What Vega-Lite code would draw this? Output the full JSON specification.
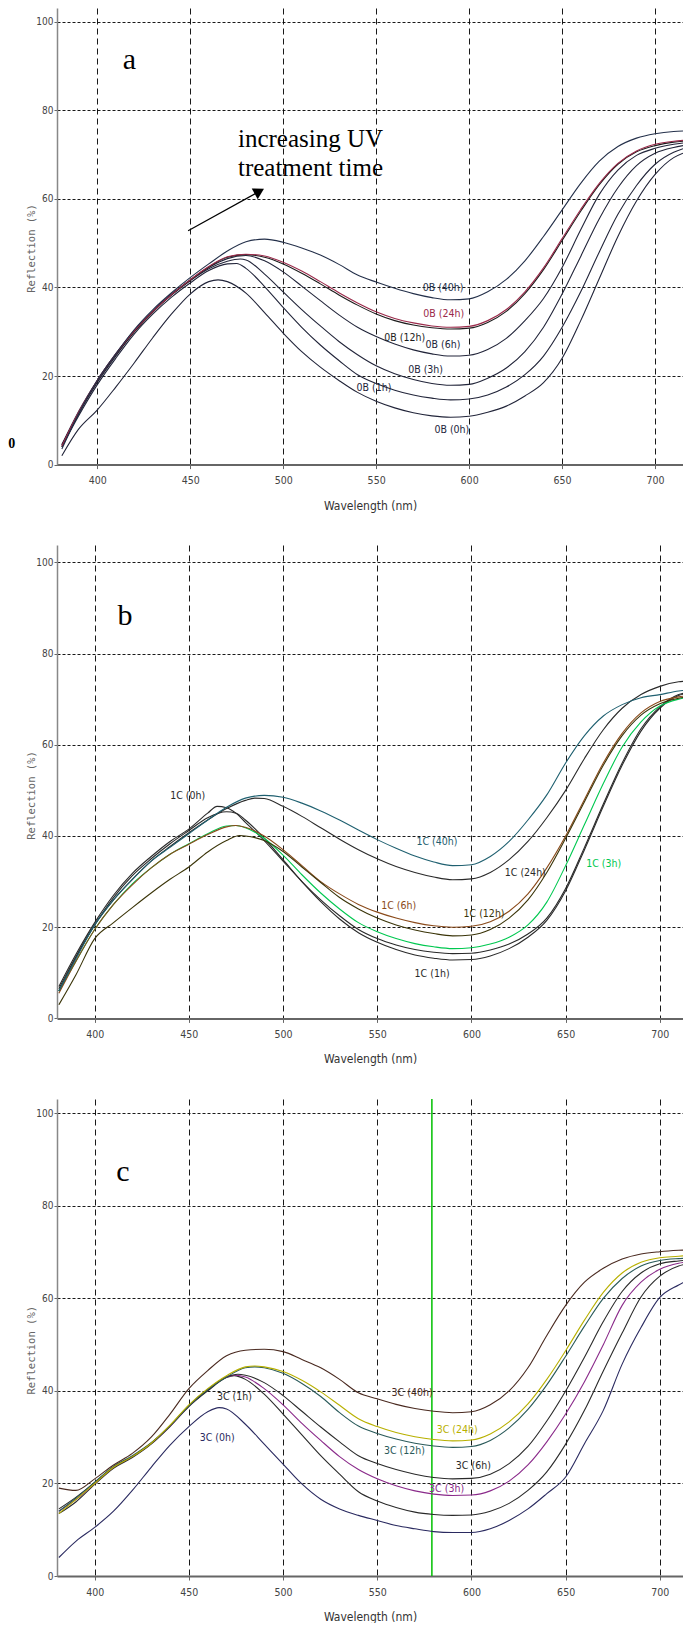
{
"$schema":"https://vega.github.io/schema/vega-lite/v6.json",
"padding":{"left":8,"top":8,"right":0,"bottom":0},
"background":"white",
"spacing":80,
"bounds":"flush",
"resolve":{"scale":{"color":"independent"}},
"config":{"view":{"stroke":null},
"axisX":{"grid":true,"gridDash":[6,4],"gridColor":"#000","gridOpacity":0.9,"domainColor":"#666","domainWidth":2,"tickSize":4,"tickColor":"#666","labelFont":"Liberation Sans Narrow, DejaVu Sans Condensed, sans-serif","labelFontSize":10.5,"labelColor":"#444","labelPadding":7,"titleFont":"Liberation Sans Narrow, DejaVu Sans Condensed, sans-serif","titleFontSize":12,"titleFontWeight":"normal","titleColor":"#333","titlePadding":14},
"axisY":{"grid":true,"gridDash":[3,2],"gridColor":"#000","gridOpacity":0.9,"domainColor":"#888","domainWidth":1.5,"tickSize":3,"tickColor":"#666","labelFont":"Liberation Sans Narrow, DejaVu Sans Condensed, sans-serif","labelFontSize":10,"labelColor":"#444","labelPadding":1,"titleFont":"DejaVu Sans Mono","titleFontSize":10.5,"titleFontWeight":"normal","titleColor":"#666","titleAlign":"center","titleBaseline":"middle","titleX":-26}},
"datasets":{
"a":[
{"s":"0h","w":381,"r":2},{"s":"0h","w":390,"r":8},{"s":"0h","w":400,"r":12.3},{"s":"0h","w":410,"r":17.5},{"s":"0h","w":420,"r":23},{"s":"0h","w":430,"r":28.7},{"s":"0h","w":440,"r":34},{"s":"0h","w":450,"r":38.5},{"s":"0h","w":460,"r":41.3},{"s":"0h","w":465,"r":41.7},{"s":"0h","w":470,"r":41.3},{"s":"0h","w":480,"r":38.7},{"s":"0h","w":490,"r":34.3},{"s":"0h","w":500,"r":29.7},{"s":"0h","w":510,"r":25.5},{"s":"0h","w":520,"r":22},{"s":"0h","w":530,"r":19},{"s":"0h","w":540,"r":16.3},{"s":"0h","w":550,"r":14.3},{"s":"0h","w":560,"r":12.8},{"s":"0h","w":570,"r":11.7},{"s":"0h","w":580,"r":11},{"s":"0h","w":590,"r":10.7},{"s":"0h","w":600,"r":10.9},{"s":"0h","w":610,"r":11.8},{"s":"0h","w":620,"r":13.2},{"s":"0h","w":630,"r":15.5},{"s":"0h","w":640,"r":18.5},{"s":"0h","w":650,"r":24},{"s":"0h","w":660,"r":32.5},{"s":"0h","w":670,"r":42},{"s":"0h","w":680,"r":51.5},{"s":"0h","w":690,"r":59.5},{"s":"0h","w":700,"r":65.5},{"s":"0h","w":710,"r":69.3},{"s":"0h","w":715,"r":70.3},
{"s":"1h","w":381,"r":4},{"s":"1h","w":390,"r":11},{"s":"1h","w":400,"r":18},{"s":"1h","w":410,"r":24},{"s":"1h","w":420,"r":29.5},{"s":"1h","w":430,"r":34},{"s":"1h","w":440,"r":37.8},{"s":"1h","w":450,"r":41},{"s":"1h","w":460,"r":43.8},{"s":"1h","w":470,"r":45.3},{"s":"1h","w":475,"r":45.4},{"s":"1h","w":480,"r":44.3},{"s":"1h","w":490,"r":40.2},{"s":"1h","w":500,"r":35.5},{"s":"1h","w":510,"r":31},{"s":"1h","w":520,"r":27},{"s":"1h","w":530,"r":23.5},{"s":"1h","w":540,"r":20.3},{"s":"1h","w":550,"r":18.3},{"s":"1h","w":560,"r":16.8},{"s":"1h","w":570,"r":15.7},{"s":"1h","w":580,"r":15},{"s":"1h","w":590,"r":14.6},{"s":"1h","w":600,"r":14.8},{"s":"1h","w":610,"r":15.7},{"s":"1h","w":620,"r":17.5},{"s":"1h","w":630,"r":20.3},{"s":"1h","w":640,"r":24.5},{"s":"1h","w":650,"r":31},{"s":"1h","w":660,"r":39},{"s":"1h","w":670,"r":48},{"s":"1h","w":680,"r":56.5},{"s":"1h","w":690,"r":63},{"s":"1h","w":700,"r":67.8},{"s":"1h","w":710,"r":70.5},{"s":"1h","w":715,"r":71.3},
{"s":"3h","w":381,"r":4.5},{"s":"3h","w":390,"r":11.5},{"s":"3h","w":400,"r":18.5},{"s":"3h","w":410,"r":24.5},{"s":"3h","w":420,"r":30},{"s":"3h","w":430,"r":34.5},{"s":"3h","w":440,"r":38.3},{"s":"3h","w":450,"r":41.5},{"s":"3h","w":460,"r":44.2},{"s":"3h","w":470,"r":45.9},{"s":"3h","w":477,"r":46.4},{"s":"3h","w":480,"r":46.2},{"s":"3h","w":490,"r":43},{"s":"3h","w":500,"r":39},{"s":"3h","w":510,"r":35},{"s":"3h","w":520,"r":31.3},{"s":"3h","w":530,"r":27.8},{"s":"3h","w":540,"r":24.8},{"s":"3h","w":550,"r":22.3},{"s":"3h","w":560,"r":20.5},{"s":"3h","w":570,"r":19.2},{"s":"3h","w":580,"r":18.3},{"s":"3h","w":590,"r":17.9},{"s":"3h","w":600,"r":18.1},{"s":"3h","w":610,"r":19.5},{"s":"3h","w":620,"r":21.8},{"s":"3h","w":630,"r":25.5},{"s":"3h","w":640,"r":31},{"s":"3h","w":650,"r":38.5},{"s":"3h","w":660,"r":47},{"s":"3h","w":670,"r":55.5},{"s":"3h","w":680,"r":62.5},{"s":"3h","w":690,"r":67.5},{"s":"3h","w":700,"r":70.3},{"s":"3h","w":710,"r":71.6},{"s":"3h","w":715,"r":72},
{"s":"6h","w":381,"r":4.5},{"s":"6h","w":390,"r":12},{"s":"6h","w":400,"r":19},{"s":"6h","w":410,"r":25},{"s":"6h","w":420,"r":30.3},{"s":"6h","w":430,"r":34.7},{"s":"6h","w":440,"r":38.5},{"s":"6h","w":450,"r":41.7},{"s":"6h","w":460,"r":44.5},{"s":"6h","w":470,"r":46.5},{"s":"6h","w":480,"r":47.2},{"s":"6h","w":490,"r":46},{"s":"6h","w":500,"r":43.5},{"s":"6h","w":510,"r":40.3},{"s":"6h","w":520,"r":37},{"s":"6h","w":530,"r":33.8},{"s":"6h","w":540,"r":31},{"s":"6h","w":550,"r":28.9},{"s":"6h","w":560,"r":27.2},{"s":"6h","w":570,"r":25.9},{"s":"6h","w":580,"r":25},{"s":"6h","w":590,"r":24.5},{"s":"6h","w":600,"r":24.7},{"s":"6h","w":610,"r":26},{"s":"6h","w":620,"r":28.5},{"s":"6h","w":630,"r":32.5},{"s":"6h","w":640,"r":37.5},{"s":"6h","w":650,"r":44.5},{"s":"6h","w":660,"r":53},{"s":"6h","w":670,"r":61},{"s":"6h","w":680,"r":66.5},{"s":"6h","w":690,"r":69.8},{"s":"6h","w":700,"r":71.4},{"s":"6h","w":710,"r":72.3},{"s":"6h","w":715,"r":72.6},
{"s":"12h","w":381,"r":4},{"s":"12h","w":390,"r":11.5},{"s":"12h","w":400,"r":18.8},{"s":"12h","w":410,"r":24.8},{"s":"12h","w":420,"r":30},{"s":"12h","w":430,"r":34.5},{"s":"12h","w":440,"r":38.3},{"s":"12h","w":450,"r":41.6},{"s":"12h","w":460,"r":44.6},{"s":"12h","w":470,"r":46.8},{"s":"12h","w":480,"r":47.4},{"s":"12h","w":490,"r":46.8},{"s":"12h","w":500,"r":45.3},{"s":"12h","w":510,"r":43.2},{"s":"12h","w":520,"r":40.8},{"s":"12h","w":530,"r":38.3},{"s":"12h","w":540,"r":36},{"s":"12h","w":550,"r":34},{"s":"12h","w":560,"r":32.5},{"s":"12h","w":570,"r":31.5},{"s":"12h","w":580,"r":30.9},{"s":"12h","w":590,"r":30.6},{"s":"12h","w":600,"r":30.8},{"s":"12h","w":610,"r":32.1},{"s":"12h","w":620,"r":34.6},{"s":"12h","w":630,"r":38.6},{"s":"12h","w":640,"r":44},{"s":"12h","w":650,"r":50.6},{"s":"12h","w":660,"r":57.2},{"s":"12h","w":670,"r":63.2},{"s":"12h","w":680,"r":67.8},{"s":"12h","w":690,"r":70.6},{"s":"12h","w":700,"r":72},{"s":"12h","w":710,"r":72.8},{"s":"12h","w":715,"r":73},
{"s":"24h","w":381,"r":4.2},{"s":"24h","w":390,"r":11.8},{"s":"24h","w":400,"r":19},{"s":"24h","w":410,"r":25},{"s":"24h","w":420,"r":30.2},{"s":"24h","w":430,"r":34.6},{"s":"24h","w":440,"r":38.4},{"s":"24h","w":450,"r":41.7},{"s":"24h","w":460,"r":44.7},{"s":"24h","w":470,"r":46.9},{"s":"24h","w":480,"r":47.5},{"s":"24h","w":490,"r":47.1},{"s":"24h","w":500,"r":45.7},{"s":"24h","w":510,"r":43.7},{"s":"24h","w":520,"r":41.3},{"s":"24h","w":530,"r":38.8},{"s":"24h","w":540,"r":36.5},{"s":"24h","w":550,"r":34.5},{"s":"24h","w":560,"r":33},{"s":"24h","w":570,"r":32},{"s":"24h","w":580,"r":31.3},{"s":"24h","w":590,"r":31},{"s":"24h","w":600,"r":31.2},{"s":"24h","w":610,"r":32.5},{"s":"24h","w":620,"r":35},{"s":"24h","w":630,"r":39},{"s":"24h","w":640,"r":44.4},{"s":"24h","w":650,"r":51},{"s":"24h","w":660,"r":57.6},{"s":"24h","w":670,"r":63.5},{"s":"24h","w":680,"r":68},{"s":"24h","w":690,"r":70.8},{"s":"24h","w":700,"r":72.3},{"s":"24h","w":710,"r":73},{"s":"24h","w":715,"r":73.2},
{"s":"40h","w":381,"r":3.5},{"s":"40h","w":390,"r":11.5},{"s":"40h","w":400,"r":19},{"s":"40h","w":410,"r":25},{"s":"40h","w":420,"r":30.5},{"s":"40h","w":430,"r":35},{"s":"40h","w":440,"r":38.8},{"s":"40h","w":450,"r":42.2},{"s":"40h","w":460,"r":45.3},{"s":"40h","w":470,"r":48.2},{"s":"40h","w":480,"r":50.3},{"s":"40h","w":490,"r":50.9},{"s":"40h","w":500,"r":50.2},{"s":"40h","w":510,"r":48.9},{"s":"40h","w":520,"r":47.3},{"s":"40h","w":530,"r":45.2},{"s":"40h","w":540,"r":42.8},{"s":"40h","w":550,"r":41.2},{"s":"40h","w":560,"r":39.8},{"s":"40h","w":570,"r":38.6},{"s":"40h","w":580,"r":37.7},{"s":"40h","w":590,"r":37.2},{"s":"40h","w":600,"r":37.4},{"s":"40h","w":610,"r":39},{"s":"40h","w":620,"r":41.8},{"s":"40h","w":630,"r":46},{"s":"40h","w":640,"r":51.5},{"s":"40h","w":650,"r":57.5},{"s":"40h","w":660,"r":63.5},{"s":"40h","w":670,"r":68.5},{"s":"40h","w":680,"r":71.8},{"s":"40h","w":690,"r":73.7},{"s":"40h","w":700,"r":74.7},{"s":"40h","w":710,"r":75.2},{"s":"40h","w":715,"r":75.3}
],
"b":[
{"s":"0h","w":381,"r":7},{"s":"0h","w":390,"r":14},{"s":"0h","w":400,"r":21},{"s":"0h","w":410,"r":27},{"s":"0h","w":420,"r":31.8},{"s":"0h","w":430,"r":35.5},{"s":"0h","w":440,"r":38.8},{"s":"0h","w":450,"r":41.5},{"s":"0h","w":460,"r":45},{"s":"0h","w":465,"r":46.5},{"s":"0h","w":470,"r":46.2},{"s":"0h","w":475,"r":45},{"s":"0h","w":480,"r":43},{"s":"0h","w":490,"r":39},{"s":"0h","w":500,"r":34.5},{"s":"0h","w":510,"r":30},{"s":"0h","w":520,"r":26},{"s":"0h","w":530,"r":22.5},{"s":"0h","w":540,"r":19.5},{"s":"0h","w":550,"r":17.5},{"s":"0h","w":560,"r":16.1},{"s":"0h","w":570,"r":15.1},{"s":"0h","w":580,"r":14.5},{"s":"0h","w":590,"r":14.2},{"s":"0h","w":600,"r":14.3},{"s":"0h","w":610,"r":15},{"s":"0h","w":620,"r":16.3},{"s":"0h","w":630,"r":18.5},{"s":"0h","w":640,"r":22},{"s":"0h","w":650,"r":28.5},{"s":"0h","w":660,"r":37.5},{"s":"0h","w":670,"r":47},{"s":"0h","w":680,"r":56},{"s":"0h","w":690,"r":63.5},{"s":"0h","w":700,"r":68.3},{"s":"0h","w":710,"r":71},{"s":"0h","w":715,"r":71.5},
{"s":"1h","w":381,"r":6.5},{"s":"1h","w":390,"r":13.5},{"s":"1h","w":400,"r":20.5},{"s":"1h","w":410,"r":26.5},{"s":"1h","w":420,"r":31.3},{"s":"1h","w":430,"r":35},{"s":"1h","w":440,"r":38.3},{"s":"1h","w":450,"r":41.2},{"s":"1h","w":460,"r":44},{"s":"1h","w":470,"r":45.3},{"s":"1h","w":475,"r":45},{"s":"1h","w":480,"r":43.5},{"s":"1h","w":490,"r":39.5},{"s":"1h","w":500,"r":34.8},{"s":"1h","w":510,"r":30},{"s":"1h","w":520,"r":25.6},{"s":"1h","w":530,"r":21.8},{"s":"1h","w":540,"r":18.8},{"s":"1h","w":550,"r":16.7},{"s":"1h","w":560,"r":15.1},{"s":"1h","w":570,"r":13.9},{"s":"1h","w":580,"r":13.2},{"s":"1h","w":590,"r":12.8},{"s":"1h","w":600,"r":12.9},{"s":"1h","w":610,"r":13.7},{"s":"1h","w":620,"r":15.3},{"s":"1h","w":630,"r":17.8},{"s":"1h","w":640,"r":21.5},{"s":"1h","w":650,"r":28},{"s":"1h","w":660,"r":37},{"s":"1h","w":670,"r":46.5},{"s":"1h","w":680,"r":55.5},{"s":"1h","w":690,"r":63},{"s":"1h","w":700,"r":68},{"s":"1h","w":710,"r":70.8},{"s":"1h","w":715,"r":71.3},
{"s":"3h","w":381,"r":6},{"s":"3h","w":390,"r":12.5},{"s":"3h","w":400,"r":19.5},{"s":"3h","w":410,"r":25},{"s":"3h","w":420,"r":29.5},{"s":"3h","w":430,"r":33},{"s":"3h","w":440,"r":36},{"s":"3h","w":450,"r":38.3},{"s":"3h","w":460,"r":40.5},{"s":"3h","w":470,"r":42.2},{"s":"3h","w":475,"r":42.3},{"s":"3h","w":480,"r":41.8},{"s":"3h","w":490,"r":39.5},{"s":"3h","w":500,"r":35.8},{"s":"3h","w":510,"r":31.5},{"s":"3h","w":520,"r":27.5},{"s":"3h","w":530,"r":24},{"s":"3h","w":540,"r":21},{"s":"3h","w":550,"r":19},{"s":"3h","w":560,"r":17.5},{"s":"3h","w":570,"r":16.4},{"s":"3h","w":580,"r":15.7},{"s":"3h","w":590,"r":15.3},{"s":"3h","w":600,"r":15.5},{"s":"3h","w":610,"r":16.3},{"s":"3h","w":620,"r":17.8},{"s":"3h","w":630,"r":20.5},{"s":"3h","w":640,"r":25.5},{"s":"3h","w":650,"r":33.5},{"s":"3h","w":660,"r":42.5},{"s":"3h","w":670,"r":51.5},{"s":"3h","w":680,"r":59.5},{"s":"3h","w":690,"r":65},{"s":"3h","w":700,"r":68.5},{"s":"3h","w":710,"r":70},{"s":"3h","w":715,"r":70.4},
{"s":"6h","w":381,"r":5.5},{"s":"6h","w":390,"r":12.5},{"s":"6h","w":400,"r":19.5},{"s":"6h","w":410,"r":25},{"s":"6h","w":420,"r":29.3},{"s":"6h","w":430,"r":33},{"s":"6h","w":440,"r":36},{"s":"6h","w":450,"r":38.2},{"s":"6h","w":460,"r":40.3},{"s":"6h","w":470,"r":42},{"s":"6h","w":475,"r":42.3},{"s":"6h","w":480,"r":41.9},{"s":"6h","w":490,"r":40},{"s":"6h","w":500,"r":37},{"s":"6h","w":510,"r":33.5},{"s":"6h","w":520,"r":30},{"s":"6h","w":530,"r":27.3},{"s":"6h","w":540,"r":25},{"s":"6h","w":550,"r":23.3},{"s":"6h","w":560,"r":22},{"s":"6h","w":570,"r":21},{"s":"6h","w":580,"r":20.3},{"s":"6h","w":590,"r":20},{"s":"6h","w":600,"r":20.2},{"s":"6h","w":610,"r":21.2},{"s":"6h","w":620,"r":23.5},{"s":"6h","w":630,"r":27.3},{"s":"6h","w":640,"r":33},{"s":"6h","w":650,"r":40},{"s":"6h","w":660,"r":48},{"s":"6h","w":670,"r":56},{"s":"6h","w":680,"r":62.5},{"s":"6h","w":690,"r":67},{"s":"6h","w":700,"r":69.5},{"s":"6h","w":710,"r":70.5},{"s":"6h","w":715,"r":70.8},
{"s":"12h","w":381,"r":3},{"s":"12h","w":390,"r":9.5},{"s":"12h","w":400,"r":17.5},{"s":"12h","w":410,"r":21},{"s":"12h","w":420,"r":24.3},{"s":"12h","w":430,"r":27.5},{"s":"12h","w":440,"r":30.5},{"s":"12h","w":450,"r":33.2},{"s":"12h","w":460,"r":36.5},{"s":"12h","w":470,"r":39},{"s":"12h","w":477,"r":40.1},{"s":"12h","w":480,"r":40},{"s":"12h","w":490,"r":39},{"s":"12h","w":500,"r":36.6},{"s":"12h","w":510,"r":33.2},{"s":"12h","w":520,"r":29.8},{"s":"12h","w":530,"r":26.5},{"s":"12h","w":540,"r":24},{"s":"12h","w":550,"r":22},{"s":"12h","w":560,"r":20.5},{"s":"12h","w":570,"r":19.4},{"s":"12h","w":580,"r":18.6},{"s":"12h","w":590,"r":18.1},{"s":"12h","w":600,"r":18.3},{"s":"12h","w":610,"r":19.5},{"s":"12h","w":620,"r":22},{"s":"12h","w":630,"r":26},{"s":"12h","w":640,"r":32},{"s":"12h","w":650,"r":39.5},{"s":"12h","w":660,"r":47.5},{"s":"12h","w":670,"r":55.5},{"s":"12h","w":680,"r":62},{"s":"12h","w":690,"r":66.5},{"s":"12h","w":700,"r":69},{"s":"12h","w":710,"r":70.2},{"s":"12h","w":715,"r":70.5},
{"s":"24h","w":381,"r":6},{"s":"24h","w":390,"r":13.3},{"s":"24h","w":400,"r":20.5},{"s":"24h","w":410,"r":26},{"s":"24h","w":420,"r":30.5},{"s":"24h","w":430,"r":34.5},{"s":"24h","w":440,"r":37.7},{"s":"24h","w":450,"r":40.7},{"s":"24h","w":460,"r":43.5},{"s":"24h","w":470,"r":46},{"s":"24h","w":480,"r":47.8},{"s":"24h","w":485,"r":48.3},{"s":"24h","w":490,"r":48.2},{"s":"24h","w":500,"r":46.5},{"s":"24h","w":510,"r":44.3},{"s":"24h","w":520,"r":41.8},{"s":"24h","w":530,"r":39.3},{"s":"24h","w":540,"r":37},{"s":"24h","w":550,"r":35},{"s":"24h","w":560,"r":33.3},{"s":"24h","w":570,"r":32},{"s":"24h","w":580,"r":31},{"s":"24h","w":590,"r":30.4},{"s":"24h","w":600,"r":30.6},{"s":"24h","w":610,"r":32},{"s":"24h","w":620,"r":34.8},{"s":"24h","w":630,"r":38.8},{"s":"24h","w":640,"r":44},{"s":"24h","w":650,"r":50},{"s":"24h","w":660,"r":57},{"s":"24h","w":670,"r":63.3},{"s":"24h","w":680,"r":68},{"s":"24h","w":690,"r":71},{"s":"24h","w":700,"r":72.8},{"s":"24h","w":710,"r":73.8},{"s":"24h","w":715,"r":74},
{"s":"40h","w":381,"r":6},{"s":"40h","w":390,"r":13},{"s":"40h","w":400,"r":20.5},{"s":"40h","w":410,"r":26},{"s":"40h","w":420,"r":30.5},{"s":"40h","w":430,"r":34.5},{"s":"40h","w":440,"r":37.5},{"s":"40h","w":450,"r":40.5},{"s":"40h","w":460,"r":43.5},{"s":"40h","w":470,"r":46.3},{"s":"40h","w":480,"r":48.3},{"s":"40h","w":490,"r":48.9},{"s":"40h","w":500,"r":48.5},{"s":"40h","w":510,"r":47.2},{"s":"40h","w":520,"r":45.5},{"s":"40h","w":530,"r":43.5},{"s":"40h","w":540,"r":41.3},{"s":"40h","w":550,"r":39.2},{"s":"40h","w":560,"r":37.3},{"s":"40h","w":570,"r":35.6},{"s":"40h","w":580,"r":34.3},{"s":"40h","w":590,"r":33.5},{"s":"40h","w":600,"r":33.7},{"s":"40h","w":610,"r":35.5},{"s":"40h","w":620,"r":38.8},{"s":"40h","w":630,"r":43.5},{"s":"40h","w":640,"r":49},{"s":"40h","w":650,"r":56},{"s":"40h","w":660,"r":62},{"s":"40h","w":670,"r":66.3},{"s":"40h","w":680,"r":68.8},{"s":"40h","w":690,"r":70.3},{"s":"40h","w":700,"r":71},{"s":"40h","w":710,"r":71.8},{"s":"40h","w":715,"r":72}
],
"c":[
{"s":"0h","w":381,"r":4},{"s":"0h","w":390,"r":7.5},{"s":"0h","w":400,"r":10.5},{"s":"0h","w":410,"r":14},{"s":"0h","w":420,"r":18.5},{"s":"0h","w":430,"r":23.5},{"s":"0h","w":440,"r":28.3},{"s":"0h","w":450,"r":32.3},{"s":"0h","w":460,"r":35.5},{"s":"0h","w":466,"r":36.4},{"s":"0h","w":470,"r":36.1},{"s":"0h","w":480,"r":32.8},{"s":"0h","w":490,"r":28.5},{"s":"0h","w":500,"r":24.2},{"s":"0h","w":510,"r":19.9},{"s":"0h","w":520,"r":16.6},{"s":"0h","w":530,"r":14.5},{"s":"0h","w":540,"r":13.1},{"s":"0h","w":550,"r":12},{"s":"0h","w":560,"r":10.9},{"s":"0h","w":570,"r":10.2},{"s":"0h","w":580,"r":9.6},{"s":"0h","w":590,"r":9.4},{"s":"0h","w":600,"r":9.4},{"s":"0h","w":610,"r":10.2},{"s":"0h","w":620,"r":12},{"s":"0h","w":630,"r":14.5},{"s":"0h","w":640,"r":17.8},{"s":"0h","w":650,"r":21.4},{"s":"0h","w":660,"r":28.6},{"s":"0h","w":670,"r":35.8},{"s":"0h","w":680,"r":45.8},{"s":"0h","w":690,"r":53.7},{"s":"0h","w":700,"r":60.2},{"s":"0h","w":710,"r":62.9},{"s":"0h","w":715,"r":64},
{"s":"1h","w":381,"r":13.5},{"s":"1h","w":390,"r":16},{"s":"1h","w":400,"r":19.8},{"s":"1h","w":410,"r":23.3},{"s":"1h","w":420,"r":25.6},{"s":"1h","w":430,"r":28.5},{"s":"1h","w":440,"r":32.3},{"s":"1h","w":450,"r":36.6},{"s":"1h","w":460,"r":40},{"s":"1h","w":470,"r":42.9},{"s":"1h","w":474,"r":43.3},{"s":"1h","w":480,"r":42.5},{"s":"1h","w":490,"r":39.3},{"s":"1h","w":500,"r":35},{"s":"1h","w":510,"r":30.5},{"s":"1h","w":520,"r":26},{"s":"1h","w":530,"r":22},{"s":"1h","w":540,"r":18.2},{"s":"1h","w":550,"r":16.2},{"s":"1h","w":560,"r":14.8},{"s":"1h","w":570,"r":13.8},{"s":"1h","w":580,"r":13.3},{"s":"1h","w":590,"r":13.1},{"s":"1h","w":600,"r":13.2},{"s":"1h","w":610,"r":14},{"s":"1h","w":620,"r":15.7},{"s":"1h","w":630,"r":18.5},{"s":"1h","w":640,"r":22.5},{"s":"1h","w":650,"r":28.5},{"s":"1h","w":660,"r":35.8},{"s":"1h","w":670,"r":44.3},{"s":"1h","w":680,"r":52.5},{"s":"1h","w":690,"r":60.3},{"s":"1h","w":700,"r":64.8},{"s":"1h","w":710,"r":67},{"s":"1h","w":715,"r":67.5},
{"s":"3h","w":381,"r":14},{"s":"3h","w":390,"r":16.5},{"s":"3h","w":400,"r":20},{"s":"3h","w":410,"r":23.5},{"s":"3h","w":420,"r":25.8},{"s":"3h","w":430,"r":28.7},{"s":"3h","w":440,"r":32.4},{"s":"3h","w":450,"r":36.8},{"s":"3h","w":460,"r":40.3},{"s":"3h","w":470,"r":43},{"s":"3h","w":475,"r":43.4},{"s":"3h","w":480,"r":43},{"s":"3h","w":490,"r":40.5},{"s":"3h","w":500,"r":37},{"s":"3h","w":510,"r":33},{"s":"3h","w":520,"r":29.3},{"s":"3h","w":530,"r":25.8},{"s":"3h","w":540,"r":23},{"s":"3h","w":550,"r":21},{"s":"3h","w":560,"r":19.5},{"s":"3h","w":570,"r":18.4},{"s":"3h","w":580,"r":17.7},{"s":"3h","w":590,"r":17.4},{"s":"3h","w":600,"r":17.5},{"s":"3h","w":610,"r":18.4},{"s":"3h","w":620,"r":20.5},{"s":"3h","w":630,"r":24},{"s":"3h","w":640,"r":29},{"s":"3h","w":650,"r":35},{"s":"3h","w":660,"r":42},{"s":"3h","w":670,"r":50},{"s":"3h","w":680,"r":58.5},{"s":"3h","w":690,"r":63.5},{"s":"3h","w":700,"r":66.3},{"s":"3h","w":710,"r":67.6},{"s":"3h","w":715,"r":67.9},
{"s":"6h","w":381,"r":14.5},{"s":"6h","w":390,"r":17},{"s":"6h","w":400,"r":20.2},{"s":"6h","w":410,"r":23.5},{"s":"6h","w":420,"r":25.8},{"s":"6h","w":430,"r":28.7},{"s":"6h","w":440,"r":32.5},{"s":"6h","w":450,"r":36.8},{"s":"6h","w":460,"r":40.2},{"s":"6h","w":470,"r":43},{"s":"6h","w":476,"r":43.6},{"s":"6h","w":480,"r":43.4},{"s":"6h","w":490,"r":41.8},{"s":"6h","w":500,"r":39},{"s":"6h","w":510,"r":35.6},{"s":"6h","w":520,"r":32.2},{"s":"6h","w":530,"r":29},{"s":"6h","w":540,"r":26},{"s":"6h","w":550,"r":24.3},{"s":"6h","w":560,"r":23},{"s":"6h","w":570,"r":22},{"s":"6h","w":580,"r":21.3},{"s":"6h","w":590,"r":21},{"s":"6h","w":600,"r":21.1},{"s":"6h","w":610,"r":22},{"s":"6h","w":620,"r":24.3},{"s":"6h","w":630,"r":28},{"s":"6h","w":640,"r":33.5},{"s":"6h","w":650,"r":40},{"s":"6h","w":660,"r":47.3},{"s":"6h","w":670,"r":55},{"s":"6h","w":680,"r":61.5},{"s":"6h","w":690,"r":65.5},{"s":"6h","w":700,"r":67.5},{"s":"6h","w":710,"r":68.1},{"s":"6h","w":715,"r":68.3},
{"s":"12h","w":381,"r":14},{"s":"12h","w":390,"r":16.8},{"s":"12h","w":400,"r":20.3},{"s":"12h","w":410,"r":23.7},{"s":"12h","w":420,"r":26},{"s":"12h","w":430,"r":28.8},{"s":"12h","w":440,"r":32.5},{"s":"12h","w":450,"r":36.8},{"s":"12h","w":460,"r":40.3},{"s":"12h","w":470,"r":43},{"s":"12h","w":480,"r":45},{"s":"12h","w":485,"r":45.2},{"s":"12h","w":490,"r":45},{"s":"12h","w":500,"r":43.8},{"s":"12h","w":510,"r":41.6},{"s":"12h","w":520,"r":38.8},{"s":"12h","w":530,"r":35.3},{"s":"12h","w":540,"r":32.4},{"s":"12h","w":550,"r":30.8},{"s":"12h","w":560,"r":29.6},{"s":"12h","w":570,"r":28.7},{"s":"12h","w":580,"r":28.1},{"s":"12h","w":590,"r":27.8},{"s":"12h","w":600,"r":28},{"s":"12h","w":610,"r":29.3},{"s":"12h","w":620,"r":32},{"s":"12h","w":630,"r":36},{"s":"12h","w":640,"r":41.3},{"s":"12h","w":650,"r":47.5},{"s":"12h","w":660,"r":54},{"s":"12h","w":670,"r":60},{"s":"12h","w":680,"r":64.3},{"s":"12h","w":690,"r":67},{"s":"12h","w":700,"r":68.2},{"s":"12h","w":710,"r":68.6},{"s":"12h","w":715,"r":68.7},
{"s":"24h","w":381,"r":13.5},{"s":"24h","w":390,"r":16.5},{"s":"24h","w":400,"r":20},{"s":"24h","w":410,"r":23.5},{"s":"24h","w":420,"r":25.8},{"s":"24h","w":430,"r":28.7},{"s":"24h","w":440,"r":32.6},{"s":"24h","w":450,"r":37},{"s":"24h","w":460,"r":40.5},{"s":"24h","w":470,"r":43.3},{"s":"24h","w":480,"r":45.2},{"s":"24h","w":485,"r":45.4},{"s":"24h","w":490,"r":45.2},{"s":"24h","w":500,"r":44.2},{"s":"24h","w":510,"r":42.3},{"s":"24h","w":520,"r":39.8},{"s":"24h","w":530,"r":36.9},{"s":"24h","w":540,"r":34},{"s":"24h","w":550,"r":32.3},{"s":"24h","w":560,"r":31},{"s":"24h","w":570,"r":30.1},{"s":"24h","w":580,"r":29.5},{"s":"24h","w":590,"r":29.2},{"s":"24h","w":600,"r":29.4},{"s":"24h","w":610,"r":30.7},{"s":"24h","w":620,"r":33.3},{"s":"24h","w":630,"r":37.2},{"s":"24h","w":640,"r":42.5},{"s":"24h","w":650,"r":48.7},{"s":"24h","w":660,"r":55.3},{"s":"24h","w":670,"r":61.3},{"s":"24h","w":680,"r":65.5},{"s":"24h","w":690,"r":67.8},{"s":"24h","w":700,"r":68.8},{"s":"24h","w":710,"r":69.1},{"s":"24h","w":715,"r":69.3},
{"s":"40h","w":381,"r":19},{"s":"40h","w":390,"r":18.5},{"s":"40h","w":400,"r":21},{"s":"40h","w":410,"r":24},{"s":"40h","w":420,"r":26.5},{"s":"40h","w":430,"r":30},{"s":"40h","w":440,"r":35},{"s":"40h","w":450,"r":40.5},{"s":"40h","w":460,"r":44.4},{"s":"40h","w":470,"r":47.6},{"s":"40h","w":480,"r":48.8},{"s":"40h","w":490,"r":49},{"s":"40h","w":500,"r":48.5},{"s":"40h","w":510,"r":46.8},{"s":"40h","w":520,"r":45},{"s":"40h","w":530,"r":42.5},{"s":"40h","w":540,"r":39.6},{"s":"40h","w":550,"r":38.3},{"s":"40h","w":560,"r":37.1},{"s":"40h","w":570,"r":36.2},{"s":"40h","w":580,"r":35.6},{"s":"40h","w":590,"r":35.3},{"s":"40h","w":600,"r":35.5},{"s":"40h","w":610,"r":37},{"s":"40h","w":620,"r":40},{"s":"40h","w":630,"r":45},{"s":"40h","w":640,"r":52},{"s":"40h","w":650,"r":58.5},{"s":"40h","w":660,"r":63.5},{"s":"40h","w":670,"r":66.5},{"s":"40h","w":680,"r":68.5},{"s":"40h","w":690,"r":69.6},{"s":"40h","w":700,"r":70.1},{"s":"40h","w":710,"r":70.4},{"s":"40h","w":715,"r":70.5}
],
"aL":[{"s":"40h","t":"0B (40h)","w":586,"r":39.8},{"s":"24h","t":"0B (24h)","w":586.3,"r":34},{"s":"12h","t":"0B (12h)","w":565.4,"r":28.6},{"s":"6h","t":"0B (6h)","w":585.9,"r":27},{"s":"3h","t":"0B (3h)","w":576.6,"r":21.4},{"s":"1h","t":"0B (1h)","w":548.8,"r":17.2},{"s":"0h","t":"0B (0h)","w":590.7,"r":7.8}],
"bL":[{"s":"40h","t":"1C (40h)","w":581.7,"r":38.7},{"s":"24h","t":"1C (24h)","w":628.6,"r":31.9},{"s":"6h","t":"1C (6h)","w":561.4,"r":24.6},{"s":"12h","t":"1C (12h)","w":606.7,"r":22.8},{"s":"3h","t":"1C (3h)","w":670.2,"r":33.9},{"s":"1h","t":"1C (1h)","w":579.1,"r":9.8},{"s":"0h","t":"1C (0h)","w":449.4,"r":48.7}],
"cL":[{"s":"40h","t":"3C (40h)","w":568.5,"r":39.6},{"s":"24h","t":"3C (24h)","w":592.4,"r":31.6},{"s":"12h","t":"3C (12h)","w":564.4,"r":27},{"s":"6h","t":"3C (6h)","w":601,"r":23.8},{"s":"3h","t":"3C (3h)","w":586.8,"r":18.7},{"s":"1h","t":"3C (1h)","w":474.2,"r":38.6},{"s":"0h","t":"3C (0h)","w":465,"r":29.9}],
"aLetter":[{"t":"a","w":417.4,"r":91.3}],
"bLetter":[{"t":"b","w":416.1,"r":88.3}],
"cLetter":[{"t":"c","w":415,"r":87.4}],
"aNote":[{"t":"increasing UV","w":475.7,"r":73.4},{"t":"treatment time","w":475.7,"r":66.9}],
"aZero":[{"t":"0","w":354.1,"r":4.65}],
"aArrow":[{"w":448.9,"r":52.8,"w2":486.9,"r2":61.6}],
"aHead":[{"w":487.2,"r":61.7}],
"cMark":[{"w":579}]
},
"vconcat":[
{"width":626,"height":456.6,
"layer":[
{"data":{"name":"a"},"mark":{"type":"line","interpolate":"monotone","strokeWidth":1.1,"clip":true},
"encoding":{
"x":{"field":"w","type":"quantitative","scale":{"domain":[378.4,715],"nice":false,"zero":false},"axis":{"values":[400,450,500,550,600,650,700],"title":"Wavelength (nm)"}},
"y":{"field":"r","type":"quantitative","scale":{"domain":[0,103.07],"nice":false},"axis":{"values":[0,20,40,60,80,100],"title":"Reflection (%)","titleY":240}},
"color":{"field":"s","type":"nominal","legend":null,"scale":{"domain":["0h","1h","3h","6h","12h","24h","40h"],"range":["#22253a","#22253a","#22253a","#22253a","#1c1c1c","#9a2a4a","#24304a"]}}}},
{"data":{"name":"aL"},"mark":{"type":"text","font":"Liberation Sans Narrow, DejaVu Sans Condensed, sans-serif","fontSize":10.5},
"encoding":{"x":{"field":"w","type":"quantitative"},"y":{"field":"r","type":"quantitative"},"text":{"field":"t"},"color":{"field":"s","type":"nominal","legend":null}}},
{"data":{"name":"aLetter"},"mark":{"type":"text","font":"Liberation Serif","fontSize":30,"color":"#000"},
"encoding":{"x":{"field":"w","type":"quantitative"},"y":{"field":"r","type":"quantitative"},"text":{"field":"t"}}},
{"data":{"name":"aNote"},"mark":{"type":"text","font":"Liberation Serif","fontSize":25,"align":"left","color":"#000"},
"encoding":{"x":{"field":"w","type":"quantitative"},"y":{"field":"r","type":"quantitative"},"text":{"field":"t"}}},
{"data":{"name":"aZero"},"mark":{"type":"text","font":"Liberation Serif","fontSize":14,"fontWeight":"bold","color":"#000"},
"encoding":{"x":{"field":"w","type":"quantitative"},"y":{"field":"r","type":"quantitative"},"text":{"field":"t"}}},
{"data":{"name":"aArrow"},"mark":{"type":"rule","color":"#000","strokeWidth":1.3},
"encoding":{"x":{"field":"w","type":"quantitative"},"y":{"field":"r","type":"quantitative"},"x2":{"field":"w2"},"y2":{"field":"r2"}}},
{"data":{"name":"aHead"},"mark":{"type":"point","shape":"triangle-up","filled":true,"color":"#000","size":150,"angle":61,"opacity":1},
"encoding":{"x":{"field":"w","type":"quantitative"},"y":{"field":"r","type":"quantitative"}}}
]},
{"width":626,"height":473.4,
"layer":[
{"data":{"name":"b"},"mark":{"type":"line","interpolate":"monotone","strokeWidth":1.1,"clip":true},
"encoding":{
"x":{"field":"w","type":"quantitative","scale":{"domain":[380,712.3],"nice":false,"zero":false},"axis":{"values":[400,450,500,550,600,650,700],"title":"Wavelength (nm)"}},
"y":{"field":"r","type":"quantitative","scale":{"domain":[0,103.8],"nice":false},"axis":{"values":[0,20,40,60,80,100],"title":"Reflection (%)","titleY":250}},
"color":{"field":"s","type":"nominal","legend":null,"scale":{"domain":["0h","1h","3h","6h","12h","24h","40h"],"range":["#2a2a2a","#2a2a2a","#00c850","#8a4a1a","#3a3408","#2a2a2a","#1f6070"]}}}},
{"data":{"name":"bL"},"mark":{"type":"text","font":"Liberation Sans Narrow, DejaVu Sans Condensed, sans-serif","fontSize":10.5},
"encoding":{"x":{"field":"w","type":"quantitative"},"y":{"field":"r","type":"quantitative"},"text":{"field":"t"},"color":{"field":"s","type":"nominal","legend":null}}},
{"data":{"name":"bLetter"},"mark":{"type":"text","font":"Liberation Serif","fontSize":30,"color":"#000"},
"encoding":{"x":{"field":"w","type":"quantitative"},"y":{"field":"r","type":"quantitative"},"text":{"field":"t"}}}
]},
{"width":626,"height":477,
"layer":[
{"data":{"name":"cMark"},"mark":{"type":"rule","color":"#00c000","strokeWidth":1.5},
"encoding":{"x":{"field":"w","type":"quantitative"}}},
{"data":{"name":"c"},"mark":{"type":"line","interpolate":"monotone","strokeWidth":1.1,"clip":true},
"encoding":{
"x":{"field":"w","type":"quantitative","scale":{"domain":[380,712.3],"nice":false,"zero":false},"axis":{"values":[400,450,500,550,600,650,700],"title":"Wavelength (nm)"}},
"y":{"field":"r","type":"quantitative","scale":{"domain":[0,103.1],"nice":false},"axis":{"values":[0,20,40,60,80,100],"title":"Reflection (%)","titleY":250.7}},
"color":{"field":"s","type":"nominal","legend":null,"scale":{"domain":["0h","1h","3h","6h","12h","24h","40h"],"range":["#2a2a60","#2a2a2a","#8a2a8a","#2a2a2a","#2a5a5a","#b8b000","#4a2a20"]}}}},
{"data":{"name":"cL"},"mark":{"type":"text","font":"Liberation Sans Narrow, DejaVu Sans Condensed, sans-serif","fontSize":10.5},
"encoding":{"x":{"field":"w","type":"quantitative"},"y":{"field":"r","type":"quantitative"},"text":{"field":"t"},"color":{"field":"s","type":"nominal","legend":null}}},
{"data":{"name":"cLetter"},"mark":{"type":"text","font":"Liberation Serif","fontSize":30,"color":"#000"},
"encoding":{"x":{"field":"w","type":"quantitative"},"y":{"field":"r","type":"quantitative"},"text":{"field":"t"}}}
]}
]
}
